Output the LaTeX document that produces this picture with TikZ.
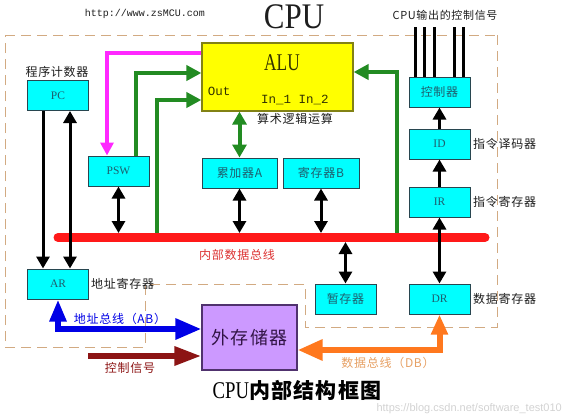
\documentclass[tikz,border=0pt]{standalone}
\usepackage{fontspec}
\setmainfont{Liberation Serif}
\newfontfamily\cjk{Noto Sans CJK SC}[LetterSpace=6]
\newfontfamily\monof{Liberation Mono}
\newfontfamily\sansf{Liberation Sans}
\usetikzlibrary{arrows.meta,calc}
\definecolor{regcyan}{RGB}{0,255,255}
\definecolor{boxline}{RGB}{40,70,80}
\definecolor{regtext}{RGB}{30,95,110}
\definecolor{aluyel}{RGB}{255,255,0}
\definecolor{aluline}{RGB}{130,130,20}
\definecolor{alutext}{RGB}{50,50,0}
\definecolor{extpur}{RGB}{204,153,255}
\definecolor{extline}{RGB}{80,50,110}
\definecolor{exttext}{RGB}{50,20,70}
\definecolor{busred}{RGB}{255,25,25}
\definecolor{buslbl}{RGB}{220,50,50}
\definecolor{grn}{RGB}{34,139,34}
\definecolor{mag}{RGB}{255,40,255}
\definecolor{blu}{RGB}{0,0,230}
\definecolor{drd}{RGB}{140,20,20}
\definecolor{org}{RGB}{255,120,30}
\definecolor{orglbl}{RGB}{230,160,100}
\definecolor{dashc}{RGB}{210,170,130}
\definecolor{txt}{RGB}{30,30,30}
\begin{document}
\begin{tikzpicture}[x=1pt,y=-1pt,
  reg/.style={draw=boxline, line width=1pt, fill=regcyan, minimum width=61pt,
    minimum height=30pt, inner sep=0pt, text=regtext, font=\fontsize{11.5}{13}\selectfont},
  lbl/.style={text=txt, inner sep=0pt, font=\cjk\fontsize{12}{14}\selectfont},
  blkone/.style={line width=3pt, -{Triangle[length=12pt,width=13pt]}},
  blktwo/.style={line width=3pt, {Triangle[length=12pt,width=13pt]}-{Triangle[length=12pt,width=13pt]}},
  grnone/.style={draw=grn, line width=4pt, -{Triangle[length=15pt,width=15pt]}},
  grntwo/.style={draw=grn, line width=4pt, {Triangle[length=13pt,width=14pt]}-{Triangle[length=13pt,width=14pt]}},
  dashb/.style={draw=dashc, line width=1pt, dash pattern=on 10pt off 6pt}
]
\useasboundingbox (0,0) rectangle (568,416);

% dashed CPU border
\draw[dashb] (5,35) -- (500,35) (497,35) -- (497,327) -- (305,327) -- (305,284) -- (145,284) -- (145,347) -- (5,347) -- (5,35);

% registers
\node[reg] (pc) at (58,95.5) {PC};
\node[reg] (ar) at (58,284) {AR};
\node[reg] (psw) at (118.5,171) {PSW};
\node[reg, minimum width=75pt, font=\cjk\fontsize{12}{14}\selectfont] (acc) at (239.5,173) {累加器A};
\node[reg, minimum width=76pt, font=\cjk\fontsize{12}{14}\selectfont] (regb) at (321,173) {寄存器B};
\node[reg, font=\cjk\fontsize{12}{14}\selectfont] (ctl) at (439.5,92) {控制器};
\node[reg] (id) at (439.5,144) {ID};
\node[reg] (ir) at (439.5,202) {IR};
\node[reg] (dr) at (439.5,299) {DR};
\node[reg, font=\cjk\fontsize{12}{14}\selectfont] (tmp) at (345.5,299) {暂存器};
\node[draw=aluline, line width=1.2pt, fill=aluyel, minimum width=151pt, minimum height=68pt, inner sep=0pt] (alu) at (277.5,77) {};
\node[draw=extline, line width=1.2pt, fill=extpur, minimum width=95pt, minimum height=65pt, inner sep=0pt,
  text=exttext, font=\cjk\fontsize{18}{20}\selectfont] (ext) at (249.5,337.5) {外存储器};

% ALU texts
\node[text=alutext, inner sep=0pt, font=\fontsize{24}{24}\selectfont] (alut) at (282,63) {\scalebox{0.72}[1]{ALU}};
\node[text=alutext, inner sep=0pt, font=\monof\fontsize{12.5}{13}\selectfont] (aluout) at (219,91) {Out};
\node[text=alutext, inner sep=0pt, font=\monof\fontsize{12.5}{13}\selectfont] (aluin) at (295,100) {In\_1 In\_2};

% coordinates
\coordinate (busL) at (58,237.5);
\coordinate (busR) at (485,237.5);
\coordinate (busT) at (0,233);
\coordinate (busB) at (0,242);
\coordinate (g1y) at (0,73);
\coordinate (g2b) at (157,237.5);
\coordinate (g2y) at (0,100);
\coordinate (g4b) at (397,237.5);
\coordinate (g4y) at (0,72);
\coordinate (magy) at (0,53);
\coordinate (bluy) at (0,329);
\coordinate (ctrlS) at (88,356);
\coordinate (orgy) at (0,350);

% green and magenta
\draw[grnone] ([xshift=17.5pt]psw.north) |- (alu.west |- g1y);
\draw[grnone] (g2b) |- (alu.west |- g2y);
\draw[grnone] (g4b) |- (alu.east |- g4y);
\draw[grntwo] (acc.north) -- (acc.north |- alu.south);
\draw[draw=mag, line width=4pt, -{Triangle[length=13pt,width=13pt]}] (alu.west |- magy) -| ([xshift=-11.5pt]psw.north);

% internal bus
\draw[busred, line width=9pt, line cap=round] (busL) -- (busR);

% black arrows
\draw[blkone] ([xshift=-15pt]pc.south) -- ([xshift=-15pt]ar.north);
\draw[blktwo] ([xshift=12pt]pc.south) -- ([xshift=12pt]ar.north);
\draw[blktwo] (psw.south) -- (psw.south |- busT);
\draw[blktwo] (acc.south) -- (acc.south |- busT);
\draw[blktwo] (regb.south) -- (regb.south |- busT);
\draw[blktwo] (tmp.north |- busB) -- (tmp.north);
\draw[blktwo] (ir.south) -- (dr.north);
\draw[blkone] (ir.north) -- (id.south);
\draw[blkone] (id.north) -- (ctl.south);
\foreach \dx [count=\i] in {-24.5,-15.5,-5.5,14.5,23.5}
  \draw[line width=3pt] ([xshift=\dx pt]ctl.north) -- ++(0,-50) coordinate (cs\i);

% external buses
\draw[draw=blu, line width=6pt, {Triangle[length=22pt,width=16pt]}-{Triangle[length=26pt,width=20pt]}] (ar.south) |- (ext.west |- bluy);
\draw[draw=drd, line width=6pt, -{Triangle[length=27pt,width=18pt]}] (ctrlS) -- (ext.west |- ctrlS);
\draw[draw=org, line width=6pt, {Triangle[length=20pt,width=16pt]}-{Triangle[length=25pt,width=20pt]}] (dr.south) |- (ext.east |- orgy);

% labels
\node[text=txt, inner sep=0pt, font=\monof\fontsize{10}{10}\selectfont] (url) at (145,14) {http://www.zsMCU.com};
\node[text=txt, inner sep=0pt, font=\fontsize{36}{36}\selectfont] (title) at (294,17) {\scalebox{0.86}[1]{CPU}};
\node[lbl, font=\cjk\fontsize{11}{13}\selectfont] (cslbl) at (445,15) {CPU输出的控制信号};
\node[lbl] (pclbl) at (57,72) {程序计数器};
\node[lbl] (alulbl) at (295,119) {算术逻辑运算};
\node[lbl, anchor=west] (idlbl) at (473,144) {指令译码器};
\node[lbl, anchor=west] (irlbl) at (473,202) {指令寄存器};
\node[lbl, anchor=west] (drlbl) at (473,299) {数据寄存器};
\node[lbl, anchor=west] (arlbl) at (91,284) {地址寄存器};
\node[lbl, text=buslbl] (buslbl) at (237,255) {内部数据总线};
\node[lbl, text=blu] (ablbl) at (120,319) {地址总线（AB）};
\node[lbl, text=drd] (ctrllbl) at (130,368) {控制信号};
\node[lbl, text=orglbl] (dblbl) at (388,363) {数据总线（DB）};
\node[text=black, inner sep=0pt] (btitle) at (297,390) {\fontsize{24}{24}\selectfont\scalebox{0.78}[1]{CPU}{\cjk\bfseries\fontsize{21}{22}\selectfont 内部结构框图}};
\node[text=gray!35, inner sep=0pt, anchor=east, font=\sansf\fontsize{11}{11}\selectfont] (wm) at (562,409) {https://blog.csdn.net/software\_test010};
\end{tikzpicture}
\end{document}
